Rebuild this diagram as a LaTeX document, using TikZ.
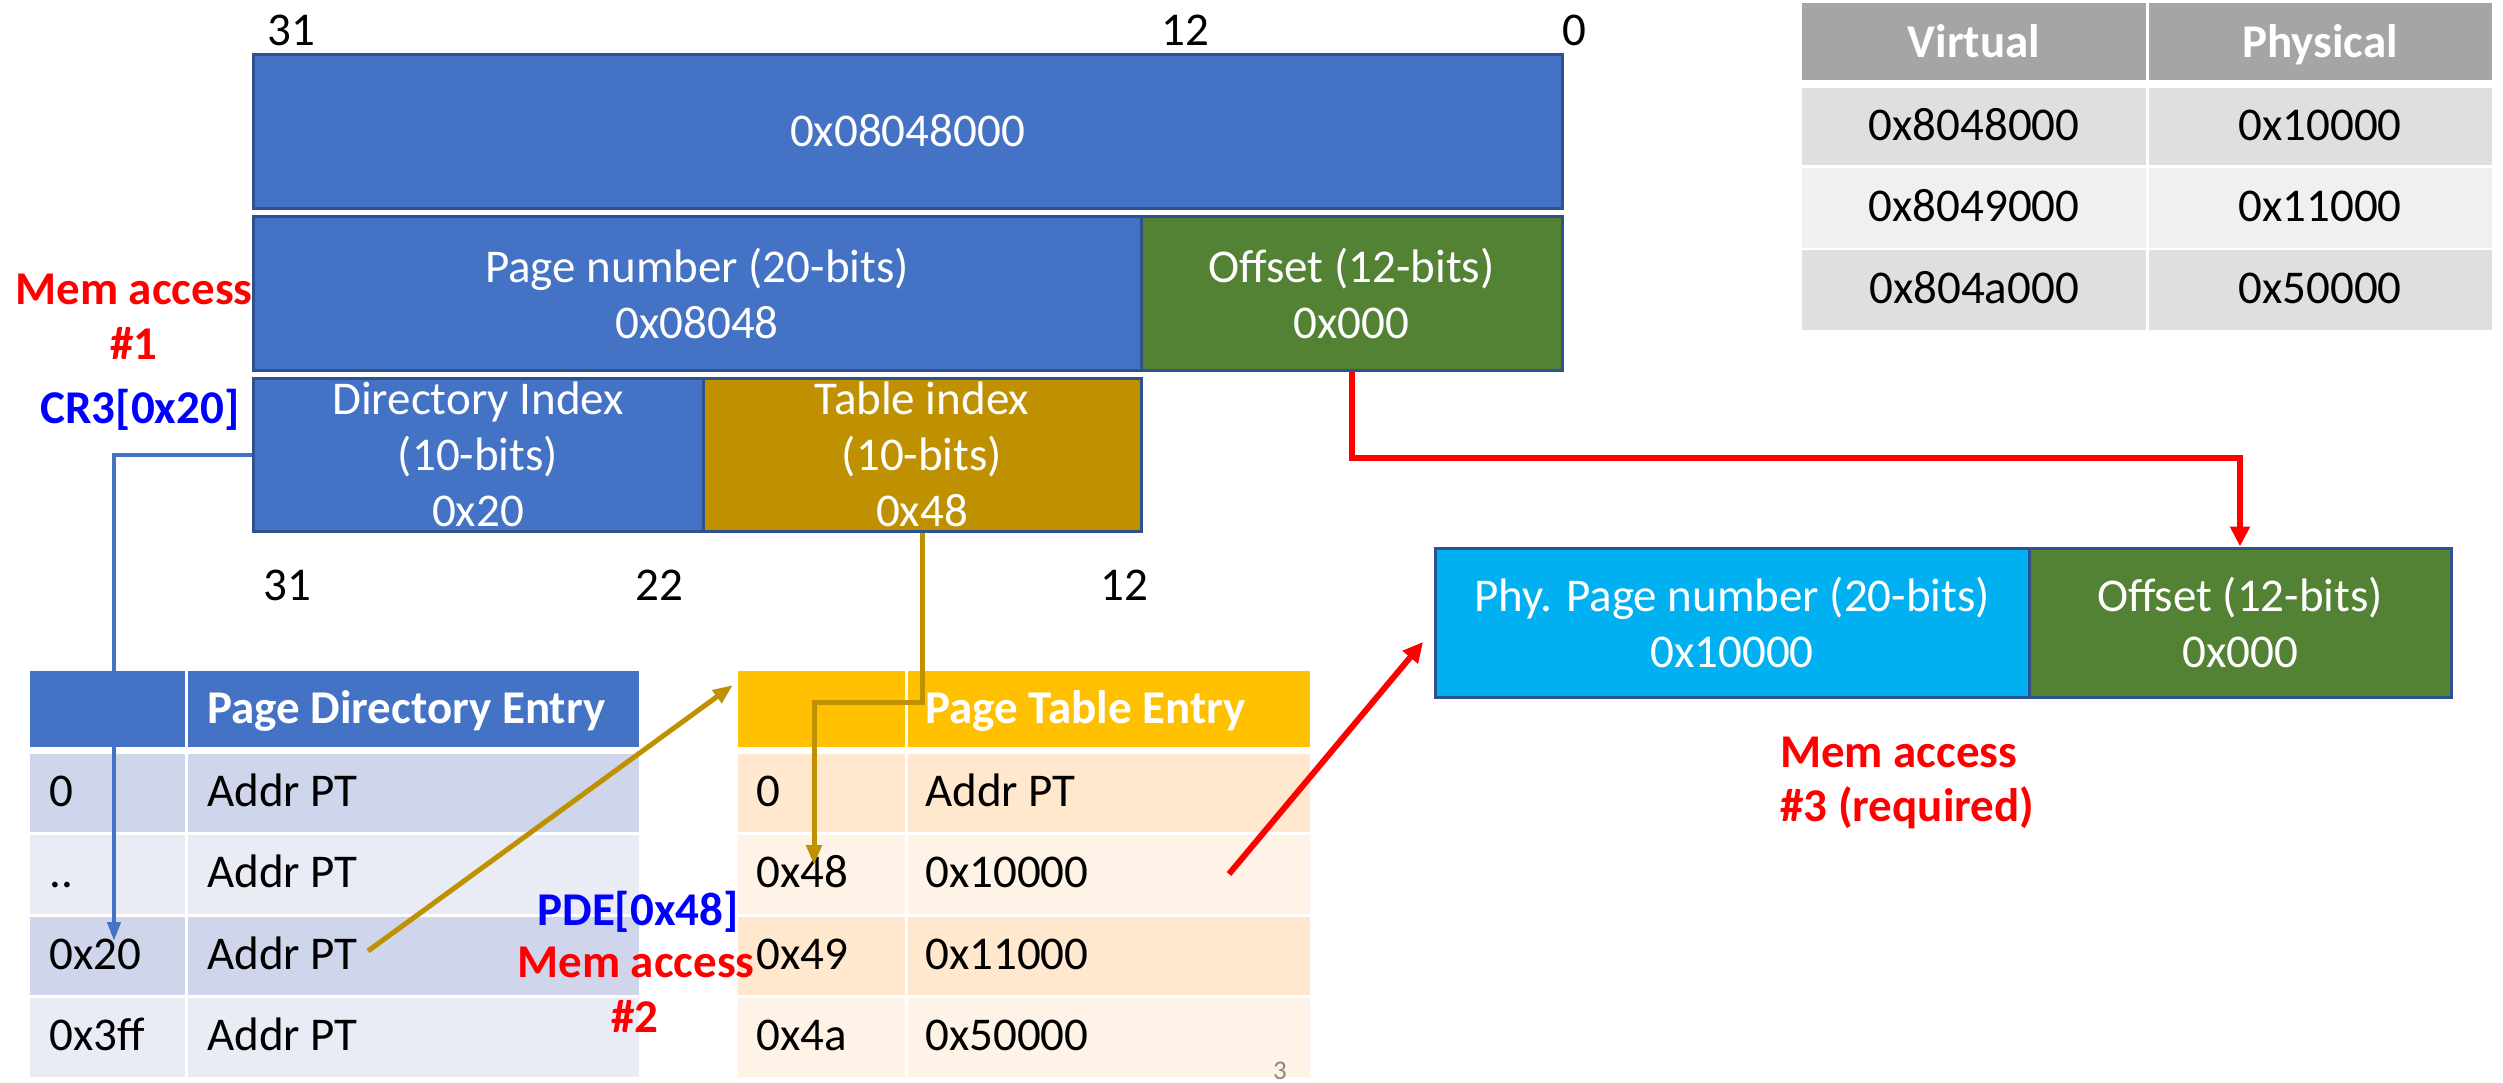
\documentclass[tikz,border=0pt]{standalone}
\usepackage{fontspec}
\setmainfont{Carlito}
\usetikzlibrary{arrows.meta}
\definecolor{vblue}{HTML}{4472C4}
\definecolor{vborder}{HTML}{2F528F}
\definecolor{vgreen}{HTML}{548235}
\definecolor{vgold}{HTML}{BF9000}
\definecolor{vcyan}{HTML}{00B0F0}
\definecolor{hgold}{HTML}{FFC000}
\definecolor{pterowA}{HTML}{FFE8CE}
\definecolor{pterowB}{HTML}{FFF3E7}
\definecolor{pderowA}{HTML}{CFD5EA}
\definecolor{pderowB}{HTML}{E9EBF5}
\definecolor{ghead}{HTML}{A5A5A5}
\definecolor{growA}{HTML}{DFDFDF}
\definecolor{growB}{HTML}{F0F0F0}
\definecolor{mred}{HTML}{FF0000}
\definecolor{mblue}{HTML}{0000FF}
\definecolor{pgray}{HTML}{898989}
\begin{document}
\begin{tikzpicture}[x=1pt,y=-1pt,
  font=\fontsize{47}{56}\selectfont,
  field/.style={draw=vborder, line width=3pt, text=white, align=center, inner sep=0pt},
  lbl/.style={anchor=base, inner sep=0pt},
  cellt/.style={anchor=base west, inner sep=0pt},
  hdrt/.style={anchor=base west, inner sep=0pt, text=white, font=\fontsize{47}{56}\selectfont\bfseries},
  vpt/.style={anchor=base, inner sep=0pt},
  vph/.style={anchor=base, inner sep=0pt, text=white, font=\fontsize{47}{56}\selectfont\bfseries},
  note/.style={anchor=base, inner sep=0pt, font=\fontsize{47}{56}\selectfont\bfseries},
  blueconn/.style={draw=vblue, line width=4pt, -{Triangle[length=19pt,width=13pt]}},
  goldconn/.style={draw=vgold, line width=5pt, -{Triangle[length=20pt,width=15pt]}},
  redconn/.style={draw=mred, line width=6pt, -{Triangle[length=20pt,width=19pt]}}
]
\useasboundingbox (0,0) rectangle (2503,1082);

% ---- virtual address fields ----
\node[field, fill=vblue, minimum width=1309pt, minimum height=154pt] (top) at (907.5,131) {0x08048000};
\node[field, fill=vblue, minimum width=888pt, minimum height=154pt] (page) at (697,293) {Page number (20-bits)\\0x08048};
\node[field, fill=vgreen, minimum width=421pt, minimum height=154pt] (off) at (1351.5,293) {Offset (12-bits)\\0x000};
\node[field, fill=vblue, minimum width=450pt, minimum height=153pt] (dir) at (478,454.5) {Directory Index\\(10-bits)\\0x20};
\node[field, fill=vgold, minimum width=438pt, minimum height=153pt] (tbl) at (922,454.5) {Table index\\(10-bits)\\0x48};

% ---- bit labels ----
\node[lbl] (b31a) at (291,45) {31};
\node[lbl] (b12a) at (1185,45) {12};
\node[lbl] (b0a) at (1574,45) {0};
\node[lbl] (b31b) at (287,600) {31};
\node[lbl] (b22b) at (659,600) {22};
\node[lbl] (b12b) at (1124,600) {12};

% ---- physical address ----
\node[field, fill=vcyan, minimum width=594pt, minimum height=149pt] (pphys) at (1732,622.5) {Phy. Page number (20-bits)\\0x10000};
\node[field, fill=vgreen, minimum width=422pt, minimum height=149pt] (poff) at (2240,622.5) {Offset (12-bits)\\0x000};

% ---- virtual/physical table ----
\fill[ghead] (1802,3) rectangle (2146,80);
\fill[ghead] (2149,3) rectangle (2492,80);
\foreach \ya/\yb/\cc in {88/165/growA, 168/248/growB, 250/330/growA} {
  \fill[fill=\cc] (1802,\ya) rectangle (2146,\yb);
  \fill[fill=\cc] (2149,\ya) rectangle (2492,\yb);
}
\node[vph] (vh1) at (1974,57) {Virtual};
\node[vph] (vh2) at (2320,57) {Physical};
\node[vpt] (v1) at (1974,140) {0x8048000};
\node[vpt] (p1) at (2320,140) {0x10000};
\node[vpt] (v2) at (1974,221) {0x8049000};
\node[vpt] (p2) at (2320,221) {0x11000};
\node[vpt] (v3) at (1974,303) {0x804a000};
\node[vpt] (p3) at (2320,303) {0x50000};

% ---- page directory / page table ----
\fill[vblue] (30,671) rectangle (184.5,747);
\fill[vblue] (187.5,671) rectangle (639,747);
\fill[hgold] (738,671) rectangle (904.5,747);
\fill[hgold] (907.5,671) rectangle (1310,747);
\foreach \ya/\yb/\ca/\cb in {754/832/pderowA/pterowA, 835/914/pderowB/pterowB, 917/995/pderowA/pterowA, 998/1077/pderowB/pterowB} {
  \fill[fill=\ca] (30,\ya) rectangle (184.5,\yb);
  \fill[fill=\ca] (187.5,\ya) rectangle (639,\yb);
  \fill[fill=\cb] (738,\ya) rectangle (904.5,\yb);
  \fill[fill=\cb] (907.5,\ya) rectangle (1310,\yb);
}
\node[hdrt] (pdeh) at (207,723) {Page Directory Entry};
\node[hdrt] (pteh) at (925,723) {Page Table Entry};

\node[cellt] (d0i) at (49,806) {0};
\node[cellt] (d0a) at (207,806) {Addr PT};
\node[cellt] (d1i) at (49,887.5) {..};
\node[cellt] (d1a) at (207,887.5) {Addr PT};
\node[cellt] (d2i) at (49,969) {0x20};
\node[cellt] (d2a) at (207,969) {Addr PT};
\node[cellt] (d3i) at (49,1050.5) {0x3ff};
\node[cellt] (d3a) at (207,1050.5) {Addr PT};

\node[cellt] (t0i) at (756,806) {0};
\node[cellt] (t0a) at (925,806) {Addr PT};
\node[cellt] (t1i) at (756,887.5) {0x48};
\node[cellt] (t1a) at (925,887.5) {0x10000};
\node[cellt] (t2i) at (756,969) {0x49};
\node[cellt] (t2a) at (925,969) {0x11000};
\node[cellt] (t3i) at (756,1050.5) {0x4a};
\node[cellt] (t3a) at (925,1050.5) {0x50000};

% ---- notes ----
\node[note, text=mred] (m1a) at (134,304) {Mem access};
\node[note, text=mred] (m1b) at (134,359) {\#1};
\node[note, text=mblue] (cr3) at (140,423) {CR3[0x20]};
\node[note, text=mblue] (pde48) at (638,925) {PDE[0x48]};
\node[note, text=mred] (m2a) at (636,977) {Mem access};
\node[note, text=mred] (m2b) at (635,1032) {\#2};
\node[note, text=mred, anchor=base west] (m3a) at (1780,767) {Mem access};
\node[note, text=mred, anchor=base west] (m3b) at (1780,821) {\#3 (required)};

\node[anchor=north, inner sep=0pt, text=pgray, font=\fontsize{27}{32}\selectfont] (pgnum) at (1280,1062) {3};

% ---- connectors ----
\coordinate (c20) at (114,941);
\coordinate (gk) at (814,702);
\coordinate (c48) at (814,865);
\coordinate (gstart) at (368,951);
\coordinate (gend) at (733,685);
\coordinate (rk) at (2240,458);
\coordinate (rstart) at (1229,874);
\coordinate (rend) at (1423,642);

\draw[blueconn] (dir.west) -| (c20);
\draw[goldconn] (tbl.south) |- (gk) -- (c48);
\draw[goldconn] (gstart) -- (gend);
\draw[redconn] (off.south) |- (rk) -- (poff.north);
\draw[redconn] (rstart) -- (rend);
\end{tikzpicture}
\end{document}
